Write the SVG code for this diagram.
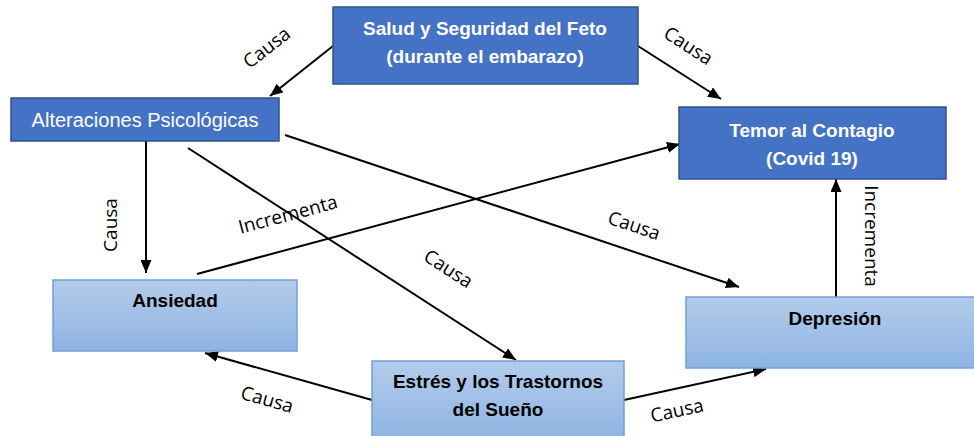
<svg xmlns="http://www.w3.org/2000/svg" width="974" height="436" viewBox="0 0 974 436">
<defs>
<linearGradient id="lb" x1="0" y1="0" x2="0" y2="1">
<stop offset="0" stop-color="#B3CBEA"/>
<stop offset="1" stop-color="#8EB4E3"/>
</linearGradient>
<marker id="ah" markerUnits="userSpaceOnUse" markerWidth="13" markerHeight="11" refX="13" refY="5.5" orient="auto">
<path d="M0,0 L13,5.5 L0,11 z" fill="#000"/>
</marker>
</defs>
<style>
.dark{fill:#4472C4;stroke:#2F528F;stroke-width:1.5}
.light{fill:url(#lb);stroke:#6FA0DA;stroke-width:1.5}
.wt{fill:#fff;font-family:"Liberation Sans",Arial,sans-serif;font-size:19px;font-weight:bold;text-anchor:middle}
.bt{fill:#000;font-family:"Liberation Sans",Arial,sans-serif;font-size:19px;font-weight:bold;text-anchor:middle}
.wn{fill:#fff;font-family:"Liberation Sans",Arial,sans-serif;font-size:20px;text-anchor:middle}
.lbl{fill:#000;font-family:"Open Sans","Liberation Sans",sans-serif;font-size:19px;text-anchor:middle}
.cn{stroke:#000;stroke-width:2;fill:none;marker-end:url(#ah)}
</style>
<rect width="974" height="436" fill="#fff"/>
<g id="connectors">
<line class="cn" x1="333" y1="46" x2="270" y2="96"/>
<line class="cn" x1="638" y1="46" x2="721" y2="99"/>
<line class="cn" x1="146" y1="141" x2="146" y2="273"/>
<line class="cn" x1="188" y1="148" x2="516" y2="360"/>
<line class="cn" x1="285" y1="135" x2="739" y2="287"/>
<line class="cn" x1="197" y1="274" x2="680" y2="144"/>
<line class="cn" x1="372" y1="400" x2="205" y2="353"/>
<line class="cn" x1="624" y1="400" x2="766" y2="369"/>
<line class="cn" x1="836" y1="297" x2="836" y2="179"/>
<text class="lbl" transform="translate(267,48) rotate(-38)" y="6">Causa</text>
<text class="lbl" transform="translate(688,46) rotate(33)" y="6">Causa</text>
<text class="lbl" transform="translate(111,225) rotate(-90)" y="6">Causa</text>
<text class="lbl" transform="translate(448,269) rotate(33)" y="6">Causa</text>
<text class="lbl" transform="translate(634,226) rotate(18.5)" y="6">Causa</text>
<text class="lbl" transform="translate(288,215) rotate(-15)" y="6">Incrementa</text>
<text class="lbl" transform="translate(267,400) rotate(15.7)" y="6">Causa</text>
<text class="lbl" transform="translate(677,411) rotate(-12)" y="6">Causa</text>
<text class="lbl" transform="translate(871,236) rotate(90)" y="6">Incrementa</text>
</g>
<g id="salud">
<rect class="dark" x="333" y="7" width="305" height="77"/>
<text class="wt" x="485" y="35">Salud y Seguridad del Feto</text>
<text class="wt" x="485" y="63">(durante el embarazo)</text>
</g>
<g id="alteraciones">
<rect class="dark" x="11" y="98" width="268" height="43"/>
<text class="wn" x="145" y="127">Alteraciones Psicológicas</text>
</g>
<g id="temor">
<rect class="dark" x="679" y="107" width="267" height="72"/>
<text class="wt" x="812" y="137">Temor al Contagio</text>
<text class="wt" x="812" y="165">(Covid 19)</text>
</g>
<g id="ansiedad">
<rect class="light" x="53" y="280" width="244" height="71"/>
<text class="bt" x="175" y="307">Ansiedad</text>
</g>
<g id="estres">
<rect class="light" x="372" y="361" width="252" height="80"/>
<text class="bt" x="498" y="388">Estrés y los Trastornos</text>
<text class="bt" x="498" y="416">del Sueño</text>
</g>
<g id="depresion">
<rect class="light" x="686" y="297" width="300" height="71"/>
<text class="bt" x="835" y="325">Depresión</text>
</g>
</svg>
